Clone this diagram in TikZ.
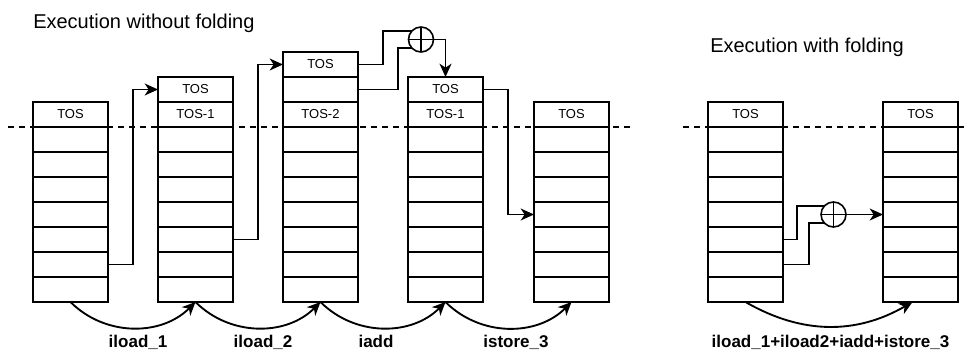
\documentclass[tikz,border=0pt]{standalone}
\usepackage{fontspec}
\setmainfont{Liberation Sans}
\usetikzlibrary{arrows.meta}
\begin{document}
\begin{tikzpicture}[x=0.75pt, y=-0.75pt,
    cell/.style={draw, line width=1.5pt, anchor=north west, inner sep=0pt, outer sep=0pt,
      minimum width=56.25pt, minimum height=18.75pt, font=\fontsize{9.75}{11}\selectfont},
    plus/.style={circle, draw, line width=1.2pt, inner sep=0pt, outer sep=0pt, minimum size=18.75pt,
      path picture={\draw[line width=1.2pt] (path picture bounding box.north) -- (path picture bounding box.south)
        (path picture bounding box.west) -- (path picture bounding box.east);}},
    wire/.style={line width=1.4pt},
    conn/.style={wire, -{Stealth[length=10pt, width=9pt, inset=3pt]}},
    guide/.style={line width=1.5pt, dash pattern=on 4.5pt off 3.75pt},
    op/.style={anchor=base, font=\fontsize{12.75}{15}\selectfont\bfseries},
    title/.style={anchor=base west, inner sep=0pt, font=\fontsize{15}{18}\selectfont}]
	\useasboundingbox (0,0) rectangle (969,356);
	\draw[guide] (8,127) -- (632,127);
	\draw[guide] (683,127) -- (969,127);
	% stacks: number/left/top/cells/texts of the first three cells
	\foreach \st/\x/\y/\n/\ta/\tb/\tc in {1/33/102/8/TOS//, 2/158/77/9/TOS/TOS-1/, 3/283/52/10/TOS//TOS-2,
	    4/408/77/9/TOS/TOS-1/, 5/534/102/8/TOS//, 6/708/102/8/TOS//, 7/883/102/8/TOS//}
	  \foreach \r in {1,...,\n}
	    \node[cell] (s\st c\r) at ({\x},{\y+25*(\r-1)}) {\ifcase\r\or\ta\or\tb\or\tc\fi};
	\node[title] (title1) at (33,28.3) {Execution without folding};
	\node[title] (title2) at (710,52.5) {Execution with folding};
	% without folding
	\draw[conn] (s1c7.east) -- ++(25,0) |- (s2c1.west);
	\draw[conn] (s2c7.east) -- ++(25,0) |- (s3c1.west);
	\node[plus] (add) at (421,39.5) {};
	\draw[wire] (s3c1.east) -- ++(25,0) |- (add.137);
	\draw[wire] (s3c2.east) -- ++(40,0) |- (add.223);
	\draw[conn] (add.east) -| (s4c1.north);
	\draw[conn] (s4c1.east) -- ++(25,0) |- (s5c5.west);
	\draw[conn] (s1c8.south) to[bend right=45] (s2c9.south);
	\draw[conn] (s2c9.south) to[bend right=45] (s3c10.south);
	\draw[conn] (s3c10.south) to[bend right=45] (s4c9.south);
	\draw[conn] (s4c9.south) to[bend right=45] (s5c8.south);
	\node[op] (op1) at (138,347) {iload\_1};
	\node[op] (op2) at (263,347) {iload\_2};
	\node[op] (op3) at (376,347) {iadd};
	\node[op] (op4) at (516,347) {istore\_3};
	% with folding
	\node[plus] (fadd) at (833.5,214.5) {};
	\draw[wire] (s6c6.east) -- ++(14,0) |- (fadd.137);
	\draw[wire] (s6c7.east) -- ++(26,0) |- (fadd.223);
	\draw[conn] (fadd.east) -- (s7c5.west);
	\coordinate (fend) at ([xshift=-6pt]s7c8.south);
	\draw[conn] (s6c8.south) to[bend right=30] (fend);
	\node[op] (op5) at (830.5,347) {iload\_1+iload2+iadd+istore\_3};
\end{tikzpicture}
\end{document}
